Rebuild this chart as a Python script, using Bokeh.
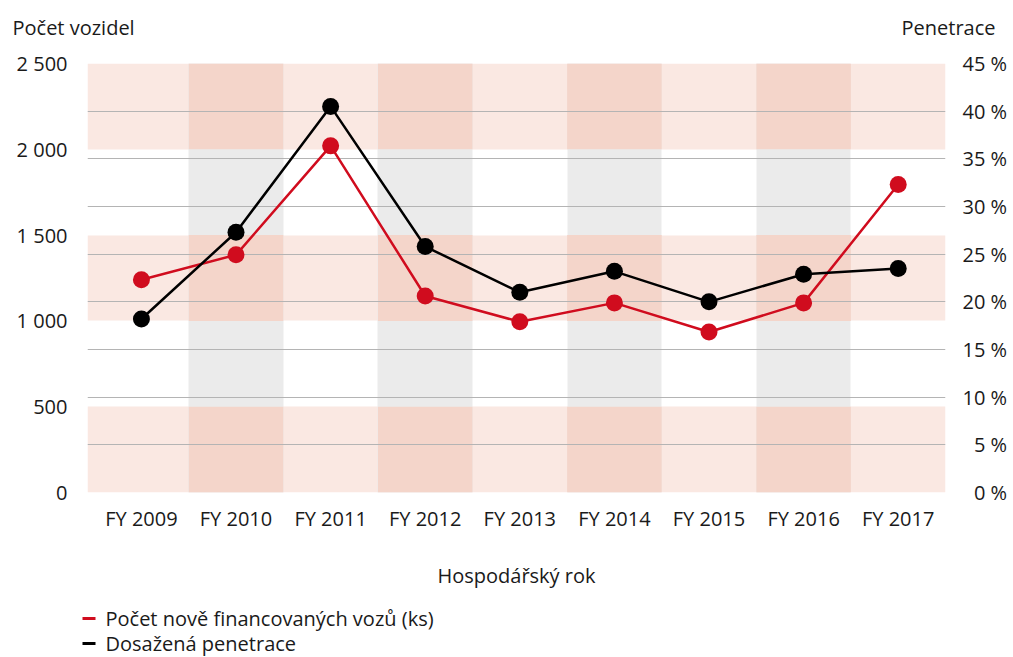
from bokeh.plotting import figure
from bokeh.models import Range1d, LinearAxis, FixedTicker, Label, BoxAnnotation
from bokeh.layouts import column
from bokeh.embed import file_html
from bokeh.resources import INLINE

# ---- data ----
categories = ["FY 2009", "FY 2010", "FY 2011", "FY 2012", "FY 2013",
              "FY 2014", "FY 2015", "FY 2016", "FY 2017"]
vehicles = [1240, 1385, 2020, 1145, 995, 1105, 935, 1105, 1795]
penetration = [18.2, 27.3, 40.5, 25.8, 21.0, 23.2, 20.0, 22.9, 23.5]

left_ticks = [0, 500, 1000, 1500, 2000, 2500]
left_tick_labels = ["0", "500", "1 000", "1 500", "2 000", "2 500"]
right_ticks = [0, 5, 10, 15, 20, 25, 30, 35, 40, 45]
right_tick_labels = ["\u20070 %", "\u20075 %", "10 %", "15 %", "20 %",
                     "25 %", "30 %", "35 %", "40 %", "45 %"]
grid_pcts = [5, 10, 15, 20, 25, 30, 35, 40]
band_bottoms = [0, 1000, 2000]
band_tops = [500, 1500, 2500]
shaded_columns = [1, 3, 5, 7]

series_names = ["Počet nově financovaných vozů (ks)", "Dosažená penetrace"]
left_title = "Počet vozidel"
right_title = "Penetrace"
x_title = "Hospodářský rok"

LEFT_MAX = 2500
RIGHT_MAX = 45

RED = "#D00C1E"
BLACK = "#000000"
LIGHT_PINK = "#FAE8E2"
DARK_PINK = "#F4D5CA"
GREY = "#EBEBEB"
GRID = "#B4B4B4"
TEXT = "#1A1A1A"
FONT = "Open Sans"

W = 1013
HEADER_H = 45
MAIN_H = 552
FOOTER_H = 60

x = list(range(len(categories)))


def bare_figure(h):
    f = figure(width=W, height=h, x_range=Range1d(0, W), y_range=Range1d(0, h),
               output_backend="svg", toolbar_location=None,
               x_axis_type=None, y_axis_type=None,
               min_border_left=0, min_border_right=0,
               min_border_top=0, min_border_bottom=0)
    f.frame_align = False
    f.outline_line_color = None
    f.xgrid.visible = False
    f.ygrid.visible = False
    f.background_fill_color = "white"
    f.border_fill_color = "white"
    return f


def text_label(fig, text, x0, y0, align="left"):
    fig.add_layout(Label(x=x0, y=y0, x_units="screen", y_units="screen",
                         text=text, text_font=FONT, text_font_size="20px",
                         text_color=TEXT, text_baseline="middle", text_align=align))


# ---- header with axis titles ----
header = bare_figure(HEADER_H)
text_label(header, left_title, 12, 18)
text_label(header, right_title, 995, 18, align="right")

# ---- main chart ----
p = figure(width=W, height=MAIN_H,
           x_range=Range1d(-0.57, len(categories) - 0.5),
           y_range=Range1d(0, LEFT_MAX),
           output_backend="svg", toolbar_location=None,
           min_border_left=87, min_border_right=68,
           min_border_top=18, min_border_bottom=105)
p.extra_y_ranges = {"pct": Range1d(0, RIGHT_MAX)}
p.outline_line_color = None
p.background_fill_color = "white"
p.border_fill_color = "white"

p.hstrip(y0=band_bottoms, y1=band_tops, fill_color=LIGHT_PINK,
         line_color=None, level="image")
p.vstrip(x0=[c - 0.5 for c in shaded_columns], x1=[c + 0.5 for c in shaded_columns],
         fill_color=GREY, line_color=None, level="image")
ql, qr, qb, qt = [], [], [], []
for c in shaded_columns:
    for b, t in zip(band_bottoms, band_tops):
        ql.append(c - 0.5)
        qr.append(c + 0.5)
        qb.append(b)
        qt.append(t)
p.quad(left=ql, right=qr, bottom=qb, top=qt, fill_color=DARK_PINK,
       line_color=None, level="image")

p.xgrid.visible = False
p.ygrid.ticker = FixedTicker(ticks=[g * LEFT_MAX / RIGHT_MAX for g in grid_pcts])
p.ygrid.grid_line_color = GRID
p.ygrid.grid_line_width = 1


def style_axis(ax):
    ax.axis_line_color = None
    ax.major_tick_line_color = None
    ax.minor_tick_line_color = None
    ax.major_tick_out = 0
    ax.major_tick_in = 0
    ax.minor_tick_out = 0
    ax.minor_tick_in = 0
    ax.major_label_text_font = FONT
    ax.major_label_text_font_size = "20px"
    ax.major_label_text_color = TEXT


yl = p.yaxis[0]
yl.ticker = FixedTicker(ticks=left_ticks)
yl.major_label_overrides = dict(zip(left_ticks, left_tick_labels))
style_axis(yl)
yl.major_label_standoff = 20

yr = LinearAxis(y_range_name="pct", ticker=FixedTicker(ticks=right_ticks))
yr.major_label_overrides = dict(zip(right_ticks, right_tick_labels))
style_axis(yr)
yr.major_label_standoff = 17
p.add_layout(yr, "right")

xa = p.xaxis[0]
xa.ticker = FixedTicker(ticks=x)
xa.major_label_overrides = dict(zip(x, categories))
style_axis(xa)
xa.major_label_standoff = 12
xa.axis_label = x_title
xa.axis_label_text_font = FONT
xa.axis_label_text_font_size = "20px"
xa.axis_label_text_font_style = "normal"
xa.axis_label_text_color = TEXT
xa.axis_label_standoff = 27

p.line(x, vehicles, line_color=RED, line_width=2.5)
p.line(x, penetration, y_range_name="pct", line_color=BLACK, line_width=2.5)
p.scatter(x, vehicles, size=17, fill_color=RED, line_color=None)
p.scatter(x, penetration, y_range_name="pct", size=17, fill_color=BLACK, line_color=None)

# ---- footer with legend (colour key + names) ----
footer = bare_figure(FOOTER_H)
for name, colour, yc in zip(series_names, [RED, BLACK], [39, 14]):
    footer.add_layout(BoxAnnotation(left=82, right=95, bottom=yc - 1.5, top=yc + 1.5,
                                    left_units="screen", right_units="screen",
                                    bottom_units="screen", top_units="screen",
                                    fill_color=colour, fill_alpha=1.0,
                                    line_color=None))
    text_label(footer, name, 105, yc)

layout = column(header, p, footer, spacing=0)
open("out.html", "w").write(file_html(layout, INLINE))
